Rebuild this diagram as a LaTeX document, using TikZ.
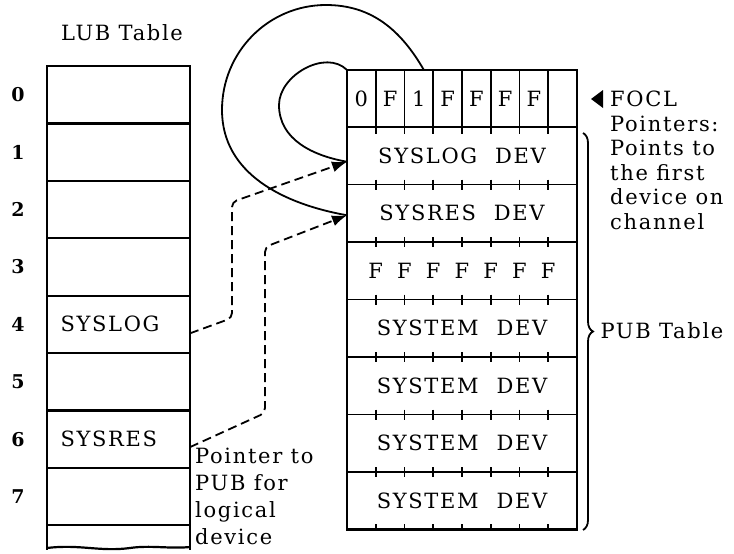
\documentclass[tikz,border=0pt]{standalone}
\usepackage{fontspec}
\setmainfont[LetterSpace=8]{DejaVu Serif}
\usetikzlibrary{arrows.meta,decorations.pathreplacing}
\newcommand\wgap{\hspace{0.85em}}

\begin{document}
\begin{tikzpicture}[x=1pt,y=1pt,
  lubrow/.style={draw,line width=2.2pt,minimum width=143pt,minimum height=57.4pt,inner sep=0pt,outer sep=0pt},
  pubrow/.style={draw,line width=1.8pt,minimum width=230pt,minimum height=57.5pt,inner sep=0pt,outer sep=0pt},
  hdcell/.style={draw,line width=1.8pt,minimum width=28.75pt,minimum height=57pt,inner sep=0pt,outer sep=0pt},
  txt/.style={font=\fontsize{21}{24}\selectfont},
  num/.style={font=\bfseries\fontsize{19}{20}\selectfont},
  ptr/.style={dash pattern=on 9pt off 5pt,line width=1.8pt,rounded corners=5pt,-{Latex[length=15pt,width=11pt]}},
  focl/.style={line width=1.8pt}]
  \useasboundingbox (0,0) rectangle (734,-554);
  % LUB table
  \node[txt] (lubtitle) at (122,-33) {LUB Table};
  \foreach \i in {0,...,7} {
    \node[lubrow] (lub\i) at (118.5,{-94.7-57.4*\i}) {};
    \node[num] (idx\i) at (18,{-94.7-57.4*\i}) {\i};
  }
  \node[txt,anchor=west] (syslog) at ([xshift=10pt]lub4.west) {SYSLOG};
  \node[txt,anchor=west] (sysres) at ([xshift=10pt]lub6.west) {SYSRES};
  \draw[line width=2.2pt] (lub7.south west) -- ++(0,-25);
  \draw[line width=2.2pt] (lub7.south east) -- ++(0,-25);
  \draw[line width=2.2pt] (47,-548) .. controls (80,-544) and (100,-552) .. (130,-548)
    .. controls (150,-545) and (170,-549) .. (190,-547);
  % PUB table
  \foreach \t [count=\k from 0] in {0,F,1,F,F,F,F}
    \node[hdcell,txt] (hd\k) at ({361.375+28.75*\k},-98.5) {\t};
  \node[hdcell] (hd7) at ({361.375+28.75*7},-98.5) {};
  \foreach \t [count=\r] in {SYSLOG\wgap DEV,SYSRES\wgap DEV,{},SYSTEM\wgap DEV,SYSTEM\wgap DEV,SYSTEM\wgap DEV,SYSTEM\wgap DEV}
    \node[pubrow,txt] (pub\r) at (462,{-155.75-57.5*(\r-1)}) {\t};
  \foreach \k in {1,...,7}
    \node[txt] (ff\k) at ({347+28.75*\k},-270.75) {F};
  \draw[line width=2.6pt] (hd0.north west) rectangle (pub7.south east);
  \foreach \k in {1,...,7} {
    \draw[line width=1.6pt] ({347+28.75*\k},-127) -- ++(0,-7);
    \draw[line width=1.6pt] ({347+28.75*\k},-529.5) -- ++(0,6);
    \foreach \r in {1,...,6}
      \draw[line width=1.6pt] ({347+28.75*\k},{-127-57.5*\r+5}) -- ++(0,-10);
  }
  % FOCL loops
  \coordinate (smallleft) at (279,-105);
  \coordinate (bigtop) at (326,-5);
  \coordinate (bigleft) at (222,-110);
  \draw[focl] (hd0.north west) to[out=135,in=90] (smallleft) to[out=-90,in=170] ([yshift=-6pt]pub1.west);
  \draw[focl] ([xshift=5pt]hd2.north) to[out=120,in=0] (bigtop) to[out=180,in=90] (bigleft)
    to[out=-90,in=170] ([yshift=-2pt]pub2.west);
  % LUB -> PUB pointers
  \draw[ptr] ([yshift=-9pt]lub4.east) -- (232,-318) -- (232,-202) -- ([yshift=-6pt]pub1.west);
  \draw[ptr] ([yshift=-8pt]lub6.east) -- (265,-413) -- (265,-247) -- ([yshift=-2pt]pub2.west);
  % notes
  \fill (591,-99) -- (603,-90) -- (603,-108) -- cycle;
  \node[align=left,anchor=north west,inner sep=0pt,font=\fontsize{21}{24.5}\selectfont] (focltxt)
    at (610,-91) {FOCL\\Pointers:\\Points to\\the first\\device on\\channel};
  \node[align=left,anchor=north west,inner sep=0pt,font=\fontsize{21}{27}\selectfont] (ptrtxt)
    at (195,-448) {Pointer to\\PUB for\\logical\\device};
  \draw[line width=1.8pt,decorate,decoration={brace,amplitude=10pt}] (583,-133) -- (583,-530);
  \node[txt,anchor=west] (pubtitle) at (597,-331) {PUB Table};
\end{tikzpicture}
\end{document}
